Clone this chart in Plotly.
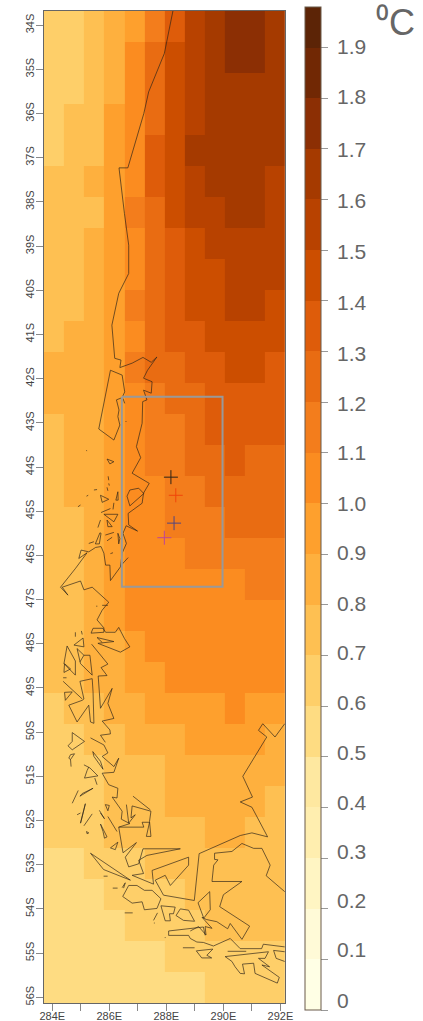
import plotly.graph_objects as go

# ---------- grid ----------
lon_centers = [284.06, 284.77, 285.47, 286.18, 286.88, 287.59, 288.29, 289.0, 289.70, 290.40, 291.11, 291.81]
lat_centers = [-34.03, -34.73, -35.43, -36.14, -36.84, -37.54, -38.24, -38.94, -39.64, -40.35, -41.05,
               -41.75, -42.45, -43.15, -43.85, -44.56, -45.26, -45.96, -46.66, -47.36, -48.06, -48.77,
               -49.47, -50.17, -50.87, -51.57, -52.27, -52.98, -53.68, -54.38, -55.08, -55.78]
warming = [
    [.65, .65, .75, .85, .95, 1.15, 1.35, 1.55, 1.65, 1.75, 1.75, 1.65],
    [.65, .65, .75, .85, 1.05, 1.25, 1.45, 1.55, 1.65, 1.75, 1.75, 1.65],
    [.65, .65, .75, .85, 1.05, 1.25, 1.45, 1.55, 1.65, 1.65, 1.65, 1.65],
    [.65, .75, .75, .95, 1.05, 1.25, 1.45, 1.55, 1.65, 1.65, 1.65, 1.65],
    [.65, .75, .75, .95, 1.05, 1.35, 1.45, 1.65, 1.65, 1.65, 1.65, 1.65],
    [.75, .75, .85, .95, 1.05, 1.35, 1.45, 1.55, 1.65, 1.65, 1.65, 1.55],
    [.75, .75, .75, .95, 1.15, 1.25, 1.45, 1.55, 1.55, 1.65, 1.65, 1.55],
    [.75, .75, .85, .95, 1.05, 1.25, 1.35, 1.45, 1.55, 1.55, 1.55, 1.55],
    [.75, .75, .85, .95, 1.05, 1.25, 1.35, 1.45, 1.45, 1.55, 1.55, 1.55],
    [.75, .75, .85, .95, 1.15, 1.25, 1.35, 1.45, 1.45, 1.55, 1.55, 1.45],
    [.75, .85, .85, .95, 1.05, 1.25, 1.35, 1.35, 1.45, 1.45, 1.45, 1.45],
    [.85, .85, .85, .95, 1.15, 1.25, 1.25, 1.35, 1.35, 1.45, 1.45, 1.35],
    [.85, .85, .85, .95, 1.05, 1.15, 1.25, 1.25, 1.35, 1.35, 1.35, 1.35],
    [.75, .85, .85, .95, 1.05, 1.15, 1.15, 1.25, 1.35, 1.35, 1.35, 1.35],
    [.75, .85, .85, .95, 1.05, 1.15, 1.15, 1.25, 1.25, 1.35, 1.25, 1.25],
    [.75, .85, .85, .95, 1.05, 1.05, 1.15, 1.15, 1.25, 1.25, 1.25, 1.25],
    [.75, .75, .85, .95, 1.05, 1.05, 1.15, 1.15, 1.15, 1.25, 1.25, 1.25],
    [.75, .75, .85, .95, 1.05, 1.05, 1.05, 1.15, 1.15, 1.15, 1.15, 1.15],
    [.75, .75, .85, .95, 1.05, 1.05, 1.05, 1.05, 1.05, 1.05, 1.15, 1.15],
    [.75, .75, .85, .95, 1.05, 1.05, 1.05, 1.05, 1.05, 1.05, 1.05, 1.05],
    [.75, .75, .85, .85, .95, 1.05, 1.05, 1.05, 1.05, 1.05, 1.05, 1.05],
    [.75, .75, .85, .85, .95, .95, 1.05, 1.05, 1.05, 1.05, 1.05, 1.05],
    [.65, .75, .75, .85, .85, .95, .95, .95, .95, 1.05, .95, .95],
    [.65, .65, .75, .75, .85, .85, .85, .95, .95, .95, .95, .85],
    [.65, .65, .65, .75, .75, .75, .85, .85, .85, .85, .85, .85],
    [.65, .65, .65, .75, .75, .75, .85, .85, .85, .85, .85, .75],
    [.65, .65, .65, .75, .75, .75, .75, .75, .85, .85, .75, .75],
    [.55, .55, .65, .65, .65, .75, .75, .75, .75, .75, .75, .75],
    [.55, .55, .55, .65, .65, .65, .65, .75, .75, .75, .75, .75],
    [.55, .55, .55, .55, .65, .65, .65, .65, .75, .75, .75, .75],
    [.55, .55, .55, .55, .55, .55, .65, .65, .65, .65, .65, .65],
    [.55, .55, .55, .55, .55, .55, .55, .55, .65, .65, .65, .65],
]

# ---------- colour bins ----------
bin_edges = [0, .1, .2, .3, .4, .5, .6, .7, .8, .9, 1.0, 1.1, 1.2, 1.3, 1.4, 1.5, 1.6, 1.7, 1.8, 1.9, 1.98]
bin_colors = ["#FFFFE5", "#FFFAD7", "#FFF5C3", "#FFEEAF", "#FEE8A0", "#FEDC82", "#FECF69", "#FEC052",
              "#FEB03E", "#FEA02D", "#FB8C20", "#F37D1C", "#E96C12", "#DE5C0A", "#CC4E00", "#B84200",
              "#A53A00", "#8C2F04", "#712804", "#5C2406"]
cbar_values = [0, .1, .2, .3, .4, .5, .6, .7, .8, .9, 1.0, 1.1, 1.2, 1.3, 1.4, 1.5, 1.6, 1.7, 1.8, 1.9]
cbar_labels = ["0", "0.1", "0.2", "0.3", "0.4", "0.5", "0.6", "0.7", "0.8", "0.9", "1.0", "1.1", "1.2",
               "1.3", "1.4", "1.5", "1.6", "1.7", "1.8", "1.9"]
cbar_label_px = [1000, 949, 900, 851, 802, 752, 703, 652, 603, 552, 503, 452, 403, 353, 302, 251, 200, 149, 97, 46]

# ---------- axes ----------
lon_ticks = [284, 285, 286, 287, 288, 289, 290, 291, 292]
lon_labels = ["284E", "", "286E", "", "288E", "", "290E", "", "292E"]
lat_ticks = [-34, -35, -36, -37, -38, -39, -40, -41, -42, -43, -44, -45, -46, -47, -48, -49, -50, -51, -52,
             -53, -54, -55, -56]
lat_labels = ["34S", "35S", "36S", "37S", "38S", "39S", "40S", "41S", "42S", "43S", "44S", "45S", "46S",
              "47S", "48S", "49S", "50S", "51S", "52S", "53S", "54S", "55S", "56S"]

# ---------- box and stations ----------
box_lon = [286.44, 289.97, 289.97, 286.44, 286.44]
box_lat = [-42.41, -42.41, -46.71, -46.71, -42.41]
station_lon = [288.16, 288.33, 288.27, 287.93]
station_lat = [-44.23, -44.64, -45.27, -45.60]
station_color = ["#2E2418", "#F0460A", "#504682", "#BE4696"]

# ---------- coastline ----------
coast_segments = [
    # continent north to Taitao
    [(288.23,-33.68),(288.08,-34.19),(287.93,-34.64),(287.38,-35.51),(287.21,-36.0),(286.65,-37.23),(286.34,-37.23),
     (286.53,-38.26),(286.68,-38.98),(286.68,-39.62),(286.33,-40.07),(286.09,-40.79),(286.16,-41.24),(286.19,-41.54),
     (286.41,-41.58),(286.37,-41.75),(286.80,-41.65),(287.18,-41.52),(287.47,-41.63),(287.67,-41.51),(287.34,-41.81),
     (287.20,-41.99),(287.50,-42.07),(287.47,-42.33),(287.20,-42.26),(287.32,-42.48),(287.17,-42.52),(287.15,-43.01),
     (286.95,-43.54),(287.10,-43.79),(286.80,-44.14),(287.40,-44.37),(287.20,-44.59),(287.15,-44.82),(286.66,-45.05),
     (286.68,-45.31),(286.99,-45.45),(286.59,-45.33),(286.48,-45.5),(286.60,-45.73),(286.45,-45.95),(286.39,-46.26),
     (286.04,-46.57),(286.02,-46.22),(285.87,-46.22),(285.81,-45.95),(285.71,-45.80),(285.52,-45.82),(285.28,-45.92),
     (285.01,-45.88),(284.93,-46.07),(285.22,-45.94),(284.82,-46.29),(284.29,-46.72),(284.55,-46.90),(284.35,-46.72),
     (284.99,-46.58),(285.11,-46.78),(285.40,-46.72),(285.57,-46.82),(285.87,-47.01),(285.98,-47.06),(285.75,-47.24),
     (285.57,-47.46),(285.81,-47.64),(285.81,-47.74),(285.36,-47.76),(285.43,-47.65),(285.78,-47.65),(285.87,-47.74),
     (286.21,-47.74),(286.33,-47.63),(286.53,-47.88),(286.72,-48.07),(286.39,-48.19),(285.60,-47.99),(286.16,-47.95),
     (285.57,-47.86),(285.75,-47.97)],
    [(285.38,-48.01),(285.95,-48.46),(285.71,-48.54),(285.92,-48.72),(285.61,-48.73),(285.69,-49.46),(286.10,-49.01),
     (285.95,-49.35),(286.16,-49.69),(285.75,-49.75),(286.02,-49.95),(286.04,-50.04),(285.69,-50.07),(285.86,-50.23)],
    [(285.34,-50.13),(285.81,-50.29),(285.95,-50.47),(285.75,-50.55),(286.16,-50.78),(286.33,-50.59),(286.16,-50.91),
     (285.75,-50.93),(285.98,-51.19),(286.30,-51.27),(286.27,-51.49),(286.10,-51.47),(286.45,-51.79),(286.42,-51.97),
     (286.72,-52.07),(286.33,-52.15),(286.48,-52.73),(286.95,-52.50),(286.56,-52.83),(286.68,-53.05),(287.03,-52.98),
     (287.18,-52.64),(288.49,-52.64),(287.32,-52.79),(287.03,-52.90),(287.20,-53.20),(286.80,-53.24),(287.55,-53.44),
     (287.50,-53.13),(288.78,-52.83),(288.78,-53.01),(288.14,-53.47),(287.96,-53.24),(287.61,-53.35),(287.90,-53.69),
     (288.98,-53.81),(289.15,-52.75),(290.59,-52.34),(291.0,-52.28),(291.55,-52.37),(291.0,-51.70),(290.59,-51.58),
     (291.02,-51.47),(290.68,-51.0),(291.52,-50.11),(291.23,-49.96),(291.38,-49.81),(291.81,-50.11),(292.15,-49.81)],
    [(286.33,-52.15),(287.21,-52.15),(287.15,-52.04),(287.41,-52.04),(287.30,-52.36),(287.46,-52.36),(287.41,-52.02),
     (287.46,-51.79),(286.80,-51.67)],
    [(286.60,-51.64),(286.68,-52.06),(286.91,-51.87),(286.76,-51.94),(286.80,-51.67)],
    # Tierra del Fuego
    [(292.15,-53.61),(291.50,-53.25),(291.64,-53.01),(291.35,-52.63),(291.06,-52.63),(290.65,-52.52),(290.30,-52.70),
     (289.69,-52.74),(289.69,-52.88),(289.81,-52.89),(289.66,-53.01),(289.60,-53.38),(290.65,-53.38),(290.0,-53.68),
     (289.87,-53.95),(290.92,-54.39),(290.65,-54.69),(290.24,-54.33),(290.15,-54.45),(289.77,-54.29),(289.40,-54.24),
     (289.25,-54.19),(289.60,-54.44),(289.36,-54.40),(289.39,-54.59),(289.13,-54.40),(288.84,-54.50)],
    [(289.52,-53.61),(289.11,-53.86),(289.31,-54.21),(289.54,-54.02),(289.52,-53.61)],
    [(288.08,-54.50),(289.30,-54.41),(289.36,-54.60)],
    [(288.08,-54.50),(288.08,-54.60),(288.78,-54.60),(288.84,-54.67),(289.07,-54.75),(289.30,-54.76),(289.65,-54.84),
     (290.24,-54.67),(290.59,-54.90),(291.34,-54.90),(291.40,-54.80),(292.15,-54.86)],
    [(288.58,-54.88),(288.99,-54.88)],
    [(289.05,-54.95),(289.63,-54.91),(289.42,-55.05),(289.59,-55.11),(289.24,-55.11),(289.05,-54.95)],
    [(290.15,-54.96),(290.80,-54.96)],
    [(290.06,-55.08),(291.58,-54.97),(291.46,-55.12),(291.23,-55.12),(291.62,-55.31),(291.35,-55.27),(291.96,-55.55),
     (291.89,-55.68),(291.11,-55.46),(291.06,-55.23),(290.67,-55.25),(290.74,-55.47),(290.59,-55.46),(290.41,-55.31),
     (290.30,-55.19),(290.06,-55.08)],
    [(292.15,-54.97),(291.76,-54.94),(291.85,-55.12),(292.15,-55.19)],
    # Magellan islands
    [(285.34,-52.74),(286.74,-53.35),(285.80,-53.11),(285.34,-52.74)],
    [(285.80,-53.26),(285.94,-53.26)],
    [(286.12,-53.53),(286.29,-53.53)],
    [(286.45,-53.52),(286.56,-53.41),(286.50,-53.53)],
    [(286.68,-53.47),(286.97,-53.47),(287.23,-53.58),(287.50,-53.58),(287.81,-53.77),(287.67,-53.99),(287.23,-54.02),
     (287.15,-53.84),(286.80,-53.87),(286.47,-53.72),(286.68,-53.47)],
    [(286.54,-54.09),(286.82,-54.09)],
    [(287.69,-54.09),(287.55,-54.26)],
    [(287.58,-54.31),(287.58,-54.33)],
    [(287.81,-53.93),(288.31,-53.96),(288.25,-54.11),(288.11,-54.11),(288.14,-54.27),(287.96,-54.27),(287.81,-53.93)],
    [(288.49,-54.0),(288.78,-54.03),(288.99,-54.28),(288.60,-54.26),(288.34,-54.15),(288.49,-54.0)],
    [(287.96,-54.64),(287.96,-54.66)],
    # Chiloe and Chonos
    [(286.04,-41.81),(286.45,-41.92),(286.54,-42.30),(286.45,-42.43),(286.25,-42.48),(286.34,-42.71),(286.30,-42.86),
     (286.37,-43.05),(286.16,-43.39),(285.63,-43.14),(286.04,-41.81)],
    [(286.48,-42.45),(286.54,-42.56)],
    [(285.92,-43.82),(286.16,-43.88),(286.02,-43.93),(285.92,-43.82)],
    [(285.20,-43.62),(285.21,-43.64)],
    [(286.58,-42.96),(286.59,-42.98)],
    [(285.69,-44.64),(285.98,-44.73),(285.75,-44.80),(285.69,-44.64)],
    [(286.62,-44.66),(286.72,-44.52),(287.03,-44.48),(287.21,-44.60),(286.72,-44.88),(286.62,-44.66)],
    [(285.71,-45.03),(286.04,-44.94)],
    [(285.81,-45.07),(286.30,-45.07),(286.16,-45.24),(285.81,-45.07)],
    [(285.92,-45.20),(286.10,-45.35),(285.95,-45.35),(285.92,-45.20)],
    [(286.30,-44.56),(286.23,-44.75),(286.31,-44.75),(286.30,-44.56)],
    [(286.16,-44.81),(286.13,-44.96)],
    [(285.96,-44.21),(285.98,-44.30)],
    [(285.98,-44.37),(286.0,-44.42)],
    [(285.92,-44.46),(285.95,-44.54)],
    [(285.46,-44.52),(285.57,-44.51)],
    [(285.20,-44.66),(285.26,-44.64)],
    [(284.90,-44.90),(284.99,-44.86)],
    [(285.69,-45.20),(285.60,-45.37)],
    [(285.67,-45.49),(285.71,-45.50),(285.65,-45.74),(285.51,-45.74),(285.67,-45.49)],
    [(285.86,-45.54),(286.16,-45.48)],
    [(285.92,-45.67),(286.10,-45.59)],
    [(286.30,-45.50),(286.37,-45.62),(286.33,-45.74),(286.30,-45.50)],
    [(285.28,-45.73),(285.46,-45.69)],
    [(286.04,-45.96),(286.13,-45.94)],
    [(286.42,-46.22),(286.66,-46.05)],
    [(285.54,-47.15),(285.58,-47.15)],
    [(285.75,-47.13),(285.95,-47.13)],
    # Patagonian channels
    [(284.76,-48.03),(285.08,-47.87),(285.11,-48.07),(284.76,-48.03)],
    [(284.81,-47.74),(284.81,-47.84)],
    [(285.02,-47.71),(285.05,-47.79)],
    [(284.52,-48.05),(284.81,-48.39),(284.81,-48.71),(284.41,-48.45),(284.52,-48.05)],
    [(284.43,-48.45),(284.64,-48.57),(284.41,-48.65),(284.43,-48.45)],
    [(284.87,-48.11),(285.11,-48.26),(285.32,-48.26),(285.40,-48.71),(284.99,-48.45),(284.87,-48.11)],
    [(285.11,-48.26),(284.97,-48.41)],
    [(284.38,-48.77),(284.50,-48.77)],
    [(284.38,-48.85),(285.05,-49.25)],
    [(284.43,-49.10),(284.70,-49.09),(284.46,-49.28),(284.43,-49.10)],
    [(284.97,-48.85),(285.40,-48.79),(285.43,-49.09),(285.46,-49.80),(285.34,-49.77),(285.28,-49.39),(284.87,-49.77),
     (284.58,-49.39),(285.05,-49.28),(285.11,-49.25),(284.97,-48.85)],
    [(284.70,-50.01),(285.13,-50.21),(284.70,-50.40),(284.55,-50.31),(284.70,-50.21),(284.70,-50.01)],
    [(284.64,-50.51),(284.78,-50.49),(284.64,-50.62),(284.58,-50.59),(284.64,-50.51)],
    [(284.64,-50.62),(284.66,-50.78)],
    [(285.42,-50.44),(285.69,-50.66),(285.78,-50.84),(285.46,-50.55),(285.42,-50.44)],
    [(285.11,-50.74),(285.32,-50.81),(285.60,-50.99),(285.13,-51.04),(285.22,-50.87),(285.28,-50.79)],
    [(285.49,-51.04),(285.57,-51.19)],
    [(284.70,-51.61),(284.91,-51.32)],
    [(284.97,-51.45),(285.43,-51.27),(285.05,-51.39),(284.97,-51.45)],
    [(285.16,-51.62),(284.99,-52.06),(285.13,-51.76),(285.16,-51.62)],
    [(284.87,-51.87),(284.99,-51.83)],
    [(285.40,-51.85),(285.11,-52.12)],
    [(285.65,-51.77),(285.83,-51.96),(285.69,-51.83)],
    [(285.95,-51.91),(286.27,-52.25)],
    [(285.86,-51.64),(286.0,-51.66),(285.95,-51.78),(285.86,-51.64)],
    [(285.69,-52.08),(285.92,-52.37),(285.83,-52.40),(285.78,-52.25),(285.69,-52.08)],
    [(285.20,-52.25),(285.28,-52.28),(285.22,-52.30),(285.20,-52.25)],
    [(286.83,-51.45),(287.44,-51.76)],
    [(286.04,-52.62),(286.30,-52.49),(286.21,-52.66),(286.04,-52.62)],
]

coast_lon, coast_lat = [], []
for seg in coast_segments:
    coast_lon += [p[0] for p in seg] + [None]
    coast_lat += [p[1] for p in seg] + [None]

# stepped colorscale
top = bin_edges[-1]
colorscale = []
for i, c in enumerate(bin_colors):
    colorscale.append([bin_edges[i] / top, c])
    colorscale.append([bin_edges[i + 1] / top, c])

W, H = 423, 1021
L, R, T, B = 43.5, 285, 11, 1003
def px(x): return (x - L) / (R - L)
def py(y): return (B - y) / (B - T)

fig = go.Figure()
fig.add_trace(go.Heatmap(
    x=lon_centers, y=lat_centers, z=warming, zmin=0, zmax=top, colorscale=colorscale,
    hoverinfo="skip", zsmooth=False,
    colorbar=dict(
        x=px(305), xanchor="left", xpad=0, ypad=0,
        y=py(1010), yanchor="bottom", lenmode="pixels", len=1003,
        thicknessmode="pixels", thickness=16,
        outlinecolor="#6a5a4a", outlinewidth=1,
        tickmode="array", tickvals=cbar_values, ticks="outside", ticklen=7,
        tickcolor="#999999", tickwidth=1, showticklabels=False,
    ),
))
fig.add_trace(go.Scatter(x=coast_lon, y=coast_lat, mode="lines", connectgaps=False,
                         line=dict(color="rgba(45,35,25,0.8)", width=0.85), hoverinfo="skip", showlegend=False))
fig.add_trace(go.Scatter(x=box_lon, y=box_lat, mode="lines",
                         line=dict(color="#999999", width=2), hoverinfo="skip", showlegend=False))
fig.add_trace(go.Scatter(x=station_lon, y=station_lat, mode="markers", hoverinfo="skip", showlegend=False,
                         marker=dict(symbol="cross-thin", size=10, line=dict(color=station_color, width=1))))

annotations = [dict(xref="paper", yref="paper", x=px(335), y=py(yy), text=t, showarrow=False,
                    xanchor="left", yanchor="middle", font=dict(family="Liberation Sans", size=21, color="#666666"))
               for t, yy in zip(cbar_labels, cbar_label_px)]
annotations.append(dict(xref="paper", yref="paper", x=px(374), y=py(22), text="⁰C", showarrow=False,
                        xanchor="left", yanchor="middle", font=dict(family="Liberation Sans", size=36, color="#666666")))

axis_font = dict(family="Liberation Sans", size=11, color="#444444")
fig.update_layout(
    width=W, height=H, autosize=False, paper_bgcolor="white", plot_bgcolor="white",
    margin=dict(l=L, r=W - R, t=T, b=H - B, pad=0, autoexpand=False),
    annotations=annotations, showlegend=False,
    xaxis=dict(range=[283.71, 292.16], tickmode="array", tickvals=lon_ticks, ticktext=lon_labels, ticks="outside",
               ticklen=7, tickcolor="#888888", tickfont=axis_font, showgrid=False, zeroline=False, tickangle=0,
               showline=True, linecolor="#666666", linewidth=1, mirror=True, ticklabelstandoff=-4),
    yaxis=dict(range=[-56.13, -33.68], tickmode="array", tickvals=lat_ticks, ticktext=lat_labels, ticks="outside",
               ticklen=7, tickcolor="#888888", tickfont=axis_font, tickangle=-90, showgrid=False, zeroline=False,
               showline=True, linecolor="#666666", linewidth=1, mirror=True, ticklabelstandoff=-2),
)
fig.write_html("out.html", config={"displayModeBar": False},
               post_script="document.body.style.margin='0';document.body.style.overflow='hidden';")
